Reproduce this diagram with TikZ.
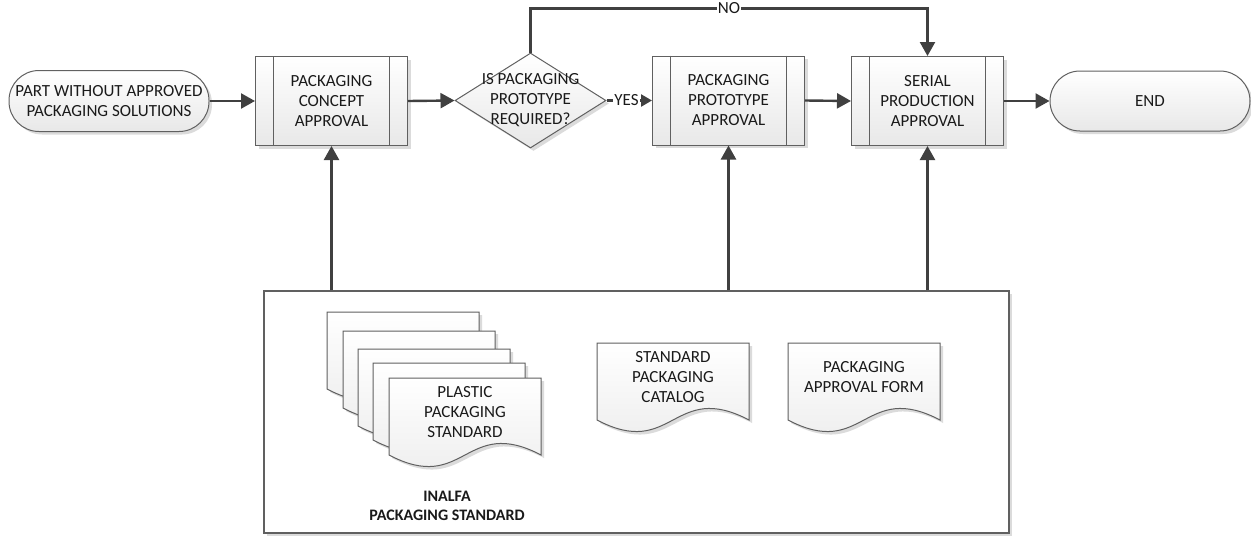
\documentclass[tikz,border=0pt]{standalone}
\usepackage{fontspec}
\setmainfont{Carlito}
\usetikzlibrary{arrows.meta,shapes.geometric,shadows,calc}
\definecolor{linec}{HTML}{404040}
\definecolor{bordc}{HTML}{606060}
\definecolor{txtc}{HTML}{1A1A1A}
\tikzset{
  shd/.style={drop shadow={shadow xshift=3pt,shadow yshift=-3pt,fill=black!14,opacity=1}},
  shp/.style={draw=bordc, line width=1pt, top color=white, bottom color=black!9, shd},
  proc/.style={shp, minimum width=152pt, minimum height=89pt, inner sep=0pt, align=center},
  term/.style={shp, rounded corners=30pt, minimum width=200pt, minimum height=61pt, inner sep=0pt, align=center},
  dec/.style={shp, diamond, minimum width=151pt, minimum height=95pt, inner sep=0pt},
  arr/.style={draw=linec, line width=2.4pt, -{Triangle[length=14pt,width=15pt]}},
  inner/.style={draw=bordc, line width=1pt},
  lbl/.style={fill=white, inner sep=1pt},
  docshape/.style={draw=bordc, line width=1pt, top color=white, bottom color=black!8, shd},
  doctxt/.style={align=center, inner sep=0pt}
}
\newcommand\pdoc[4]{%
  \path[docshape] ({#2},{#3}) -- ({#2+152},{#3}) -- ({#2+152},{#3+77})
    .. controls ({#2+76},{#3+77-40}) and ({#2+76},{#3+77+40}) .. ({#2},{#3+77}) -- cycle;
  \node[doctxt] (#1) at ({#2+76},{#3+34}) {#4};
}
\begin{document}
\begin{tikzpicture}[x=1pt,y=-1pt, font=\fontsize{17}{20}\selectfont, text=txtc]
\useasboundingbox (0,0) rectangle (1251,536);

% resources box
\node[draw=bordc, line width=1.2pt, fill=white, shd, minimum width=745pt, minimum height=242pt, inner sep=0pt] (res) at (636.5,412) {};

% main flow
\node[term] (start) at (109,101) {PART WITHOUT APPROVED\\PACKAGING SOLUTIONS};
\node[proc] (b1) at (331.5,101) {PACKAGING\\CONCEPT\\APPROVAL};
\node[dec] (d) at (530.5,100.5) {};
\node[align=center, inner sep=0pt] (dtxt) at (d.center) {IS PACKAGING\\PROTOTYPE\\REQUIRED?};
\node[proc] (b3) at (728.5,100.5) {PACKAGING\\PROTOTYPE\\APPROVAL};
\node[proc] (b4) at (927.5,101) {SERIAL\\PRODUCTION\\APPROVAL};
\node[term, minimum height=60pt] (end) at (1150,101) {END};

\foreach \b in {b1,b3,b4}{
  \draw[inner] ([xshift=18.5pt]\b.north west) -- ([xshift=18.5pt]\b.south west);
  \draw[inner] ([xshift=-18.5pt]\b.north east) -- ([xshift=-18.5pt]\b.south east);
}

% connectors
\draw[arr] (start.east) -- (b1.west);
\draw[arr] (b1.east) -- (d.west);
\draw[arr, -{Triangle[length=11pt,width=12pt]}] (d.east) -- node[lbl, pos=0.44]{YES} (b3.west);
\draw[arr] (b3.east) -- (b4.west);
\draw[arr] (b4.east) -- (end.west);
\draw[arr] (d.north) -- ++(0,-44) coordinate (nc) -| node[lbl, pos=0.25]{NO} (b4.north);
\draw[arr] (b1.south |- res.north) -- (b1.south);
\draw[arr] (b3.south |- res.north) -- (b3.south);
\draw[arr] (b4.south |- res.north) -- (b4.south);

% document stack
\pdoc{s1}{327}{312}{}
\pdoc{s2}{343}{331}{}
\pdoc{s3}{358}{349}{}
\pdoc{s4}{373}{363}{}
\pdoc{s5}{389}{378}{PLASTIC\\PACKAGING\\STANDARD}
\node[align=center, inner sep=0pt, font=\bfseries\fontsize{16}{19}\selectfont] (stk) at (447,506) {INALFA\\PACKAGING STANDARD};

\pdoc{cat}{597}{343}{STANDARD\\PACKAGING\\CATALOG}
\pdoc{frm}{788}{343}{PACKAGING\\APPROVAL FORM}
\end{tikzpicture}
\end{document}
